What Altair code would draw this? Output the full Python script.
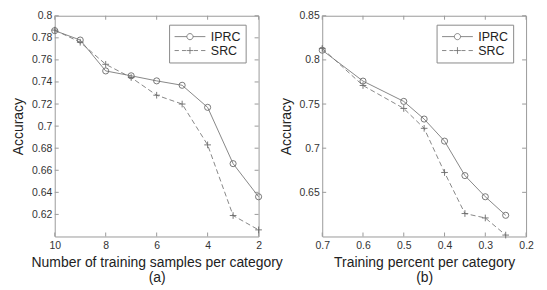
import altair as alt
import pandas as pd

# ---- data ----
series = ["IPRC", "SRC"]

a_x = [10, 9, 8, 7, 6, 5, 4, 3, 2]
a_iprc = [0.7865, 0.778, 0.750, 0.7456, 0.741, 0.737, 0.717, 0.666, 0.636]
a_src = [0.7870, 0.776, 0.756, 0.744, 0.728, 0.720, 0.683, 0.619, 0.606]

b_x = [0.7, 0.6, 0.5, 0.45, 0.4, 0.35, 0.3, 0.25]
b_iprc = [0.811, 0.776, 0.753, 0.733, 0.708, 0.669, 0.645, 0.624]
b_src = [0.813, 0.771, 0.745, 0.7225, 0.6725, 0.626, 0.621, 0.6016]

a_xticks = [10, 8, 6, 4, 2]
a_yticks = [0.62, 0.64, 0.66, 0.68, 0.7, 0.72, 0.74, 0.76, 0.78, 0.8]
b_xticks = [0.7, 0.6, 0.5, 0.4, 0.3, 0.2]
b_yticks = [0.65, 0.7, 0.75, 0.8, 0.85]

a_title = ["Number of training samples per category", "(a)"]
b_title = ["Training percent per category", "(b)"]

# ---- style ----
W, H = 205, 222
FONT = "Liberation Sans"
LINE = "#7a7a7a"
MARK = "#6a6a6a"
FRAME = "#9a9a9a"
TICK = 4

CIRCLE_LEG = "M-1,0L-0.2,0M0.2,0L1,0M-0.2,0A0.2,0.2 0 1 0 0.2,0A0.2,0.2 0 1 0 -0.2,0"
PLUS_LEG = ("M-1,0L-0.72,0M-0.52,0L-0.26,0M0.26,0L0.52,0M0.72,0L1,0"
            "M-0.22,0L0.22,0M0,-0.22L0,0.22")
PLUS = "M-1,0L1,0M0,-1L0,1"


def panel(xs, iprc, src, xdom, ydom, xticks, yticks, xfmt, yfmt, xtitle):
    n = len(xs)
    df = pd.DataFrame({"x": xs + xs, "y": iprc + src,
                       "series": ["IPRC"] * n + ["SRC"] * n})
    xenc = alt.X("x:Q",
                 scale=alt.Scale(domain=xdom, reverse=True, nice=False, zero=False),
                 axis=alt.Axis(values=xticks, format=xfmt, title=xtitle,
                               labelPadding=4, titlePadding=5, titleLineHeight=15))
    yenc = alt.Y("y:Q",
                 scale=alt.Scale(domain=ydom, nice=False, zero=False),
                 axis=alt.Axis(values=yticks, format=yfmt, title="Accuracy",
                               labelPadding=3, minExtent=24, maxExtent=24,
                               titlePadding=5))
    base = alt.Chart(df)
    iprc_df = base.transform_filter(alt.datum.series == "IPRC")
    src_df = base.transform_filter(alt.datum.series == "SRC")
    line_i = iprc_df.mark_line(color=LINE, strokeWidth=0.9).encode(x=xenc, y=yenc)
    line_s = src_df.mark_line(color=LINE, strokeWidth=0.9, strokeDash=[5, 3]).encode(
        x=xenc, y=yenc)
    circ = iprc_df.mark_point(
        shape="circle", size=38, filled=False, color=MARK, strokeWidth=0.9,
        opacity=1).encode(x=xenc, y=yenc)
    plus = src_df.mark_point(
        shape=PLUS, size=45, filled=False, color=MARK, strokeWidth=0.9,
        opacity=1).encode(x=xenc, y=yenc)
    leg = base.mark_point(
        filled=False, color=MARK, strokeWidth=0.8, opacity=0).encode(
        x=xenc, y=yenc,
        shape=alt.Shape("series:N",
                        scale=alt.Scale(domain=series, range=[CIRCLE_LEG, PLUS_LEG]),
                        legend=alt.Legend(orient="none", legendX=115, legendY=9,
                                          title=None, symbolSize=961,
                                          symbolStrokeWidth=0.8, symbolOpacity=1,
                                          symbolStrokeColor=MARK,
                                          symbolFillColor="transparent",
                                          labelFont=FONT, labelFontSize=12.5,
                                          labelColor="#222", labelOffset=5,
                                          padding=5, strokeColor="#8a8a8a",
                                          fillColor="white", clipHeight=14,
                                          rowPadding=0)))
    xt = pd.DataFrame({"x": xticks})
    yt = pd.DataFrame({"y": yticks})
    t_top = alt.Chart(xt).mark_rule(color=FRAME, strokeWidth=1).encode(
        x=xenc, y=alt.value(0), y2=alt.value(TICK))
    t_bot = alt.Chart(xt).mark_rule(color=FRAME, strokeWidth=1).encode(
        x=xenc, y=alt.value(H), y2=alt.value(H - TICK))
    t_left = alt.Chart(yt).mark_rule(color=FRAME, strokeWidth=1).encode(
        y=yenc, x=alt.value(0), x2=alt.value(TICK))
    t_right = alt.Chart(yt).mark_rule(color=FRAME, strokeWidth=1).encode(
        y=yenc, x=alt.value(W), x2=alt.value(W - TICK))
    return alt.layer(t_top, t_bot, t_left, t_right, line_i, line_s, circ, plus, leg
                     ).properties(width=W, height=H)


pa = panel(a_x, a_iprc, a_src, [2, 10], [0.6, 0.8], a_xticks, a_yticks,
           "d", ".2~f", a_title)
pb = panel(b_x, b_iprc, b_src, [0.2, 0.7], [0.6, 0.85], b_xticks, b_yticks,
           ".1f", ".2~f", b_title)

chart = alt.hconcat(pa, pb, spacing=64, bounds="flush").resolve_scale(
    shape="independent").resolve_legend(shape="independent").properties(
    padding={"left": 3, "top": 1, "right": 5, "bottom": 0},
    background="white"
).configure_view(stroke=FRAME, strokeWidth=1).configure_axis(
    labelFont=FONT, labelFontSize=10.5, labelColor="#333",
    titleFont=FONT, titleFontSize=14, titleFontWeight="normal", titleColor="#222",
    ticks=False, tickSize=0, domain=False, grid=False,
    labelFlush=False, labelOverlap=False, labelBound=False
)

chart.save("out.html", embed_options={"renderer": "svg", "actions": False})
